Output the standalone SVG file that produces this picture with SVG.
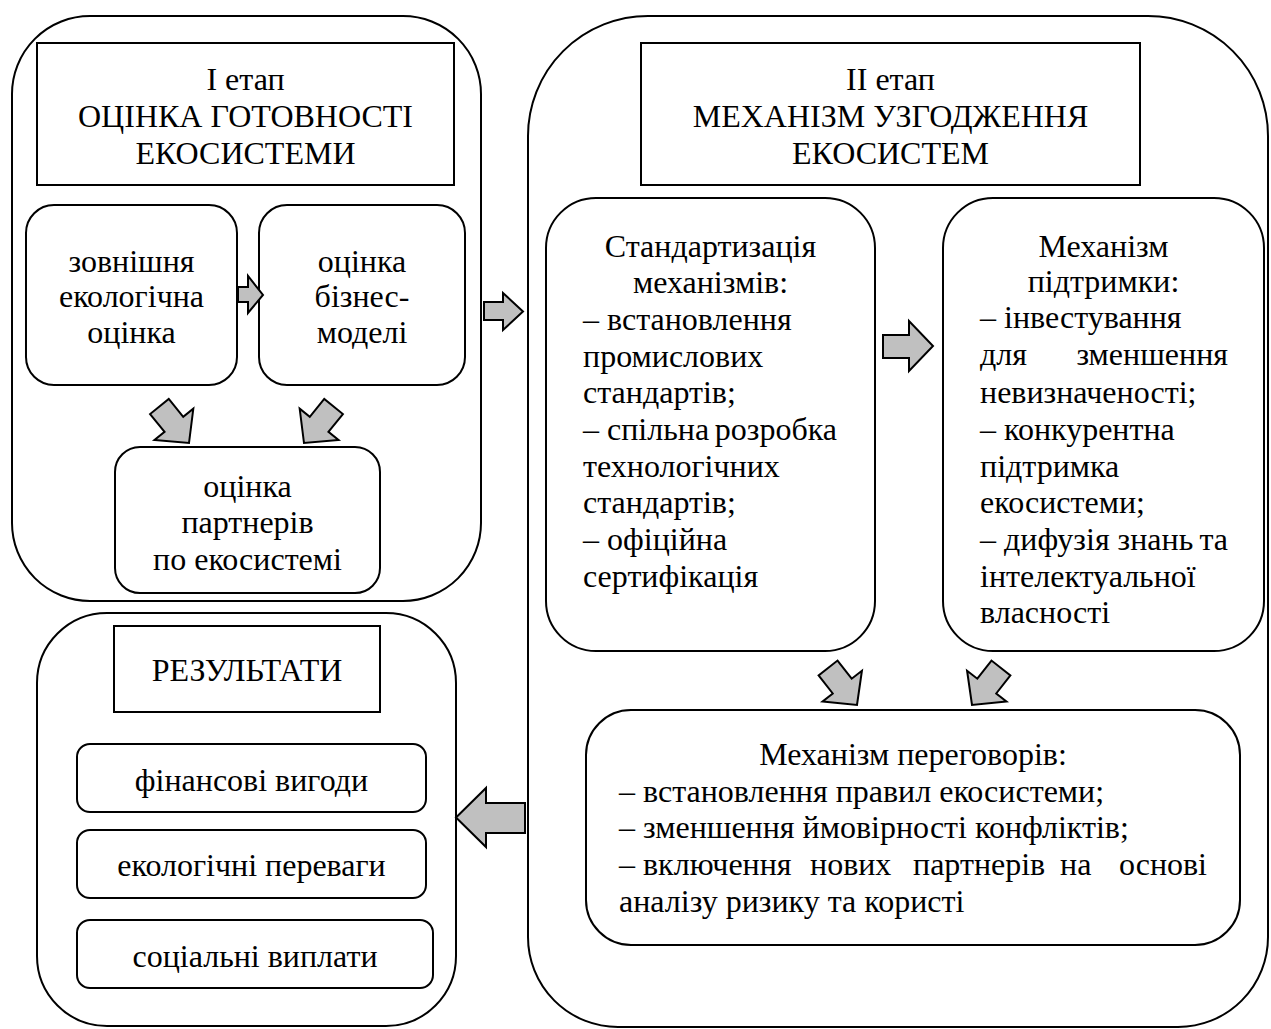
<svg xmlns="http://www.w3.org/2000/svg" width="1271" height="1029" viewBox="0 0 1271 1029">
<style>
.box{fill:#fff;stroke:#000;stroke-width:2}
.outer{fill:none;stroke:#000;stroke-width:2}
.arr{fill:#c0c0c0;stroke:#000;stroke-width:2;stroke-linejoin:miter}
text{font-family:"Liberation Serif","Times New Roman",serif;font-size:32px;fill:#000}
.c{text-anchor:middle}
</style>
<defs>
<polygon id="diag" points="-47,-12 -24,-12 -24,-25 0,0 -24,25 -24,12 -47,12"/>
</defs>
<rect width="1271" height="1029" fill="#fff"/>

<g id="stage1">
<rect class="outer" x="12" y="16" width="469" height="585" rx="78"/>
</g>
<g id="stage1-title">
<rect class="box" x="37" y="43" width="417" height="142"/>
<text class="c" x="245.5" y="90">І етап</text>
<text class="c" x="245.5" y="127">ОЦІНКА ГОТОВНОСТІ</text>
<text class="c" x="245.5" y="164">ЕКОСИСТЕМИ</text>
</g>
<g id="external-eval">
<rect class="box" x="26" y="205" width="211" height="180" rx="28"/>
<text class="c" x="131.5" y="272">зовнішня</text>
<text class="c" x="131.5" y="307">екологічна</text>
<text class="c" x="131.5" y="343">оцінка</text>
</g>
<g id="business-eval">
<rect class="box" x="259" y="205" width="206" height="180" rx="28"/>
<text class="c" x="362" y="272">оцінка</text>
<text class="c" x="362" y="307">бізнес-</text>
<text class="c" x="362" y="343">моделі</text>
</g>
<g id="partners-eval">
<rect class="box" x="115" y="447" width="265" height="146" rx="25"/>
<text class="c" x="247.5" y="497">оцінка</text>
<text class="c" x="247.5" y="533">партнерів</text>
<text class="c" x="247.5" y="570">по екосистемі</text>
</g>

<g id="stage2">
<path class="outer" d="M648,16 H1148 A120,120 0 0 1 1268,136 V937 A90,90 0 0 1 1178,1027 H618 A90,90 0 0 1 528,937 V136 A120,120 0 0 1 648,16 Z"/>
</g>
<g id="stage2-title">
<rect class="box" x="641" y="43" width="499" height="142"/>
<text class="c" x="890.5" y="90">ІІ етап</text>
<text class="c" x="890.5" y="127">МЕХАНІЗМ УЗГОДЖЕННЯ</text>
<text class="c" x="890.5" y="164">ЕКОСИСТЕМ</text>
</g>
<g id="standardization">
<rect class="box" x="546" y="198" width="329" height="453" rx="50"/>
<text class="c" x="710.5" y="257">Стандартизація</text>
<text class="c" x="710.5" y="293">механізмів:</text>
<text x="583" y="330">– встановлення</text>
<text x="583" y="367">промислових</text>
<text x="583" y="403">стандартів;</text>
<text y="440"><tspan x="583">– спільна</tspan> <tspan x="837" text-anchor="end">розробка</tspan></text>
<text x="583" y="477">технологічних</text>
<text x="583" y="513">стандартів;</text>
<text x="583" y="550">– офіційна</text>
<text x="583" y="587">сертифікація</text>
</g>
<g id="support">
<rect class="box" x="943" y="198" width="321" height="453" rx="50"/>
<text class="c" x="1103.5" y="257">Механізм</text>
<text class="c" x="1103.5" y="292">підтримки:</text>
<text x="980" y="328">– інвестування</text>
<text y="365"><tspan x="980">для</tspan> <tspan x="1228" text-anchor="end">зменшення</tspan></text>
<text x="980" y="403">невизначеності;</text>
<text x="980" y="440">– конкурентна</text>
<text x="980" y="477">підтримка</text>
<text x="980" y="513">екосистеми;</text>
<text y="550"><tspan x="980">– дифузія знань</tspan> <tspan x="1228" text-anchor="end">та</tspan></text>
<text x="980" y="587">інтелектуальної</text>
<text x="980" y="623">власності</text>
</g>
<g id="negotiation">
<rect class="box" x="586" y="710" width="654" height="235" rx="45"/>
<text class="c" x="913" y="765">Механізм переговорів:</text>
<text x="619" y="802">– встановлення правил екосистеми;</text>
<text x="619" y="838">– зменшення ймовірності конфліктів;</text>
<text y="875"><tspan x="619">– включення</tspan> <tspan x="810">нових</tspan> <tspan x="913">партнерів</tspan> <tspan x="1060">на</tspan> <tspan x="1207" text-anchor="end">основі</tspan></text>
<text x="619" y="912">аналізу ризику та користі</text>
</g>

<g id="results">
<rect class="outer" x="37" y="613" width="419" height="413" rx="70"/>
</g>
<g id="results-title">
<rect class="box" x="114" y="626" width="266" height="86"/>
<text class="c" x="247" y="681">РЕЗУЛЬТАТИ</text>
</g>
<g id="financial">
<rect class="box" x="77" y="744" width="349" height="68" rx="13"/>
<text class="c" x="251.5" y="791">фінансові вигоди</text>
</g>
<g id="ecological">
<rect class="box" x="77" y="830" width="349" height="68" rx="13"/>
<text class="c" x="251.5" y="876">екологічні переваги</text>
</g>
<g id="social">
<rect class="box" x="77" y="920" width="356" height="68" rx="13"/>
<text class="c" x="255" y="967">соціальні виплати</text>
</g>

<g id="connectors">
<polygon class="arr" points="238,287 248,287 248,276 263,295 248,313 248,302 238,302"/>
<use href="#diag" class="arr" transform="translate(189,443) rotate(51)"/>
<use href="#diag" class="arr" transform="translate(304,443) rotate(129)"/>
<polygon class="arr" points="484,302 503,302 503,293 523,311.5 503,330 503,320 484,320"/>
<polygon class="arr" points="883,335 909,335 909,321 933,346 909,371 909,358 883,358"/>
<use href="#diag" class="arr" transform="translate(857,705) rotate(52)"/>
<use href="#diag" class="arr" transform="translate(972,705) rotate(128)"/>
<polygon class="arr" points="525,803 486,803 486,788 456,817.5 486,847 486,833 525,833"/>
</g>
</svg>
